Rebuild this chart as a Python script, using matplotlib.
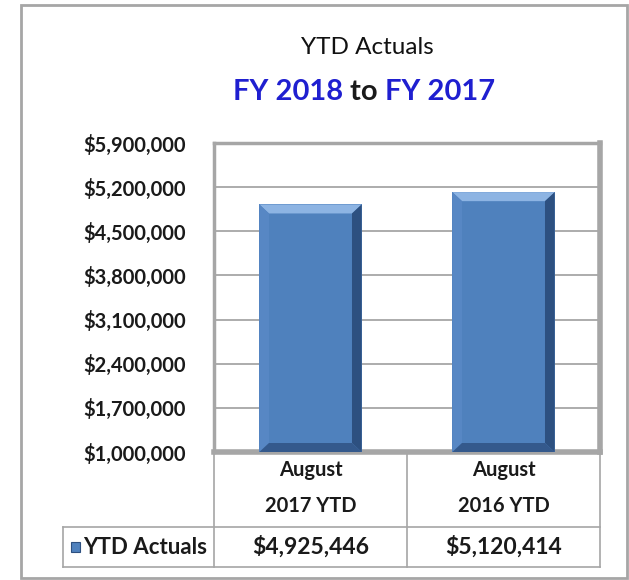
import matplotlib.pyplot as plt
from matplotlib.lines import Line2D
from matplotlib.patches import Rectangle, Polygon
from matplotlib.ticker import FuncFormatter

categories = ['August\n2017 YTD', 'August\n2016 YTD']
values = [4925446, 5120414]
value_labels = ['$4,925,446', '$5,120,414']
series_name = 'YTD Actuals'
y_ticks = [1000000, 1700000, 2400000, 3100000, 3800000, 4500000, 5200000, 5900000]

W, H = 629, 580
plt.rcParams['font.family'] = ['Lato', 'DejaVu Sans']

fig = plt.figure(figsize=(W / 100, H / 100), dpi=100)
fig.patch.set_facecolor('white')


def fx(px):
    return px / W


def fy(py):
    return 1 - py / H


# outer chart border
fig.add_artist(Rectangle((fx(21), fy(578)), fx(627) - fx(21), fy(4.5) - fy(578),
                         transform=fig.transFigure, fill=False,
                         edgecolor='#a6a6a6', lw=2))

# titles
fig.text(fx(367), fy(48), 'YTD Actuals', ha='center', va='center',
         fontsize=17.5, color='#111111')
t1 = fig.text(fx(233), fy(92), 'FY 2018 ', ha='left', va='center',
              fontsize=21, fontweight='bold', color='#1f1fd0')
fig.canvas.draw()
r = fig.canvas.get_renderer()
bb = t1.get_window_extent(r)
t2 = fig.text(bb.x1 / W, fy(92), 'to ', ha='left', va='center',
              fontsize=21, fontweight='bold', color='#1a1a1a')
bb = t2.get_window_extent(r)
fig.text(bb.x1 / W, fy(92), 'FY 2017', ha='left', va='center',
         fontsize=21, fontweight='bold', color='#1f1fd0')

# plot area
L, R, T, B = 214, 600, 143, 452
ax = fig.add_axes([fx(L), fy(B), fx(R) - fx(L), fy(T) - fy(B)])
ax.set_xlim(-0.5, len(categories) - 0.5)
ax.set_ylim(y_ticks[0], y_ticks[-1])
ax.set_yticks(y_ticks)
ax.yaxis.set_major_formatter(FuncFormatter(lambda v, p: '${:,.0f}'.format(v)))
ax.set_xticks([])
ax.tick_params(axis='y', length=0, pad=20, labelsize=14.5, labelcolor='#1a1a1a')
for lab in ax.get_yticklabels():
    lab.set_fontweight('bold')
ax.grid(axis='y', color='#a6a6a6', lw=1.3)
ax.set_axisbelow(True)
for s in ax.spines.values():
    s.set_color('#a6a6a6')
    s.set_linewidth(2.5)
ax.spines['right'].set_linewidth(4)
ax.spines['bottom'].set_linewidth(4)

bw = 0.53
bars = ax.bar(range(len(values)), values, width=bw, color='#4f81bd', zorder=3)

# bevel edges on the bars
dx = 0.05
dy = (y_ticks[-1] - y_ticks[0]) / 309 * 9
for b in bars:
    x0, x1 = b.get_x(), b.get_x() + b.get_width()
    y0, y1 = y_ticks[0], b.get_height()
    top = Polygon([(x0, y1), (x1, y1), (x1 - dx, y1 - dy), (x0 + dx, y1 - dy)],
                  closed=True, facecolor='#8db4e3', edgecolor='none', zorder=4)
    left = Polygon([(x0, y1), (x0 + dx, y1 - dy), (x0 + dx, y0 + dy), (x0, y0)],
                   closed=True, facecolor='#5787c4', edgecolor='none', zorder=4)
    right = Polygon([(x1, y1), (x1 - dx, y1 - dy), (x1 - dx, y0 + dy), (x1, y0)],
                    closed=True, facecolor='#2d5080', edgecolor='none', zorder=4)
    bot = Polygon([(x0, y0), (x0 + dx, y0 + dy), (x1 - dx, y0 + dy), (x1, y0)],
                  closed=True, facecolor='#34598c', edgecolor='none', zorder=4)
    for p in (top, left, right, bot):
        ax.add_patch(p)

# data table below the plot
lc = '#a6a6a6'
mid = (L + R) / 2
col_x = [L, mid, R]
for x in col_x:
    fig.add_artist(Line2D([fx(x), fx(x)], [fy(452), fy(567)], color=lc, lw=1.2,
                          transform=fig.transFigure))
fig.add_artist(Line2D([fx(63), fx(63)], [fy(527), fy(567)], color=lc, lw=1.2,
                      transform=fig.transFigure))
for y in (527, 567):
    fig.add_artist(Line2D([fx(63), fx(R)], [fy(y), fy(y)], color=lc, lw=1.2,
                          transform=fig.transFigure))

for i, (c, v) in enumerate(zip(categories, value_labels)):
    cx = ax.transData.transform((i, 0))[0] / W
    fig.text(cx, fy(488), c, ha='center', va='center', fontsize=14.5,
             fontweight='bold', color='#1a1a1a', linespacing=2.0)
    fig.text(cx, fy(547), v, ha='center', va='center', fontsize=16.5,
             fontweight='bold', color='#1a1a1a')

fig.add_artist(Rectangle((fx(71), fy(552)), fx(9), fy(542) - fy(552),
                         transform=fig.transFigure, facecolor='#4f81bd',
                         edgecolor='#2d5080', lw=0.8))
fig.text(fx(83), fy(547), series_name, ha='left', va='center', fontsize=16,
         fontweight='bold', color='#1a1a1a')

fig.savefig('out.png', dpi=100)
